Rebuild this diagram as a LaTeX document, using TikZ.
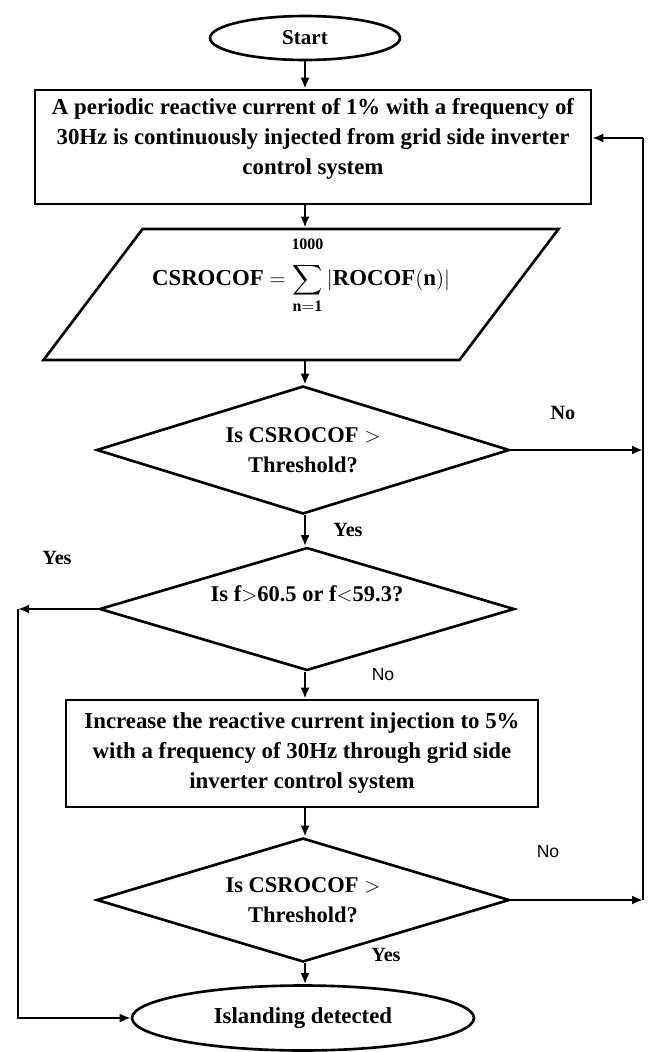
\documentclass[tikz,border=0pt]{standalone}
\usepackage{amsmath}
\usepackage{fontspec}
\setmainfont{Liberation Serif}
\newfontfamily\lblsans{Liberation Sans}
\usetikzlibrary{arrows.meta,positioning,shapes.geometric}

\begin{document}
\begin{tikzpicture}[x=0.02cm,y=-0.02cm,
	terminal/.style={draw,ellipse,line width=1.5pt,inner sep=0pt,font=\fontsize{12}{14}\selectfont\bfseries},
	box/.style={draw,rectangle,line width=1.5pt,align=center,inner sep=0pt,font=\fontsize{13}{17}\selectfont\bfseries},
	io/.style={draw,trapezium,trapezium left angle=51.3,trapezium right angle=128.7,trapezium stretches=true,
		line width=1.5pt,inner sep=0pt,minimum width=10.34cm,minimum height=2.62cm,font=\fontsize{13}{15}\selectfont},
	decision/.style={draw,diamond,aspect=3.2,line width=1.5pt,inner sep=0pt,align=center,font=\fontsize{12.8}{17}\selectfont\bfseries},
	flow/.style={-{Latex[length=2.2mm,width=1.8mm]},line width=1.3pt},
	lbl/.style={font=\fontsize{11.5}{13}\selectfont\bfseries},
	slbl/.style={font=\fontsize{10}{12}\selectfont\lblsans}]
\useasboundingbox (0,0) rectangle (651,1052);

\node[terminal,minimum width=3.8cm,minimum height=0.88cm] (start) at (305,38) {Start};
\node[box,minimum width=11.12cm,minimum height=2.28cm] (inject) at (313,147)
	{A periodic reactive current of 1\% with a frequency of\\30Hz is continuously injected from grid side inverter\\control system\rule[-0.42cm]{0pt}{0pt}};
\node[io] (csrocof) at (301,294.5)
	{$\displaystyle\mathbf{CSROCOF}=\sum_{\mathbf{n=1}}^{\mathbf{1000}\rule[-0.24cm]{0pt}{0pt}}\left|\mathbf{ROCOF(n)}\right|$\rule[-1.34cm]{0pt}{0pt}};
\node[decision,minimum width=8.26cm,minimum height=2.56cm] (check) at (303,450) {Is CSROCOF $>$\\Threshold?};
\node[decision,minimum width=8.3cm,minimum height=2.46cm] (freq) at (307,609)
	{Is f$>$60.5 or f$<$59.3?\rule[-0.6cm]{0pt}{0pt}};
\node[box,minimum width=9.44cm,minimum height=2.14cm] (increase) at (302,753.5)
	{Increase the reactive current injection to 5\%\\with a frequency of 30Hz through grid side\\inverter control system\rule[-0.12cm]{0pt}{0pt}};
\node[decision,minimum width=8.26cm,minimum height=2.48cm] (recheck) at (303,900) {Is CSROCOF $>$\\Threshold?};
\node[terminal,minimum width=6.84cm,minimum height=1.3cm,font=\fontsize{13}{15}\selectfont\bfseries] (island) at (303,1018) {Islanding detected};

% loop back and yes branch
\coordinate (loop) at (643,138);
\coordinate (back) at (18,609);

\draw[flow] (start) -- (start |- inject.north);
\draw[flow] (start |- inject.south) -- (start |- csrocof.north);
\draw[flow] (start |- csrocof.south) -- (start |- check.north);
\draw[flow] (start |- check.south) -- (start |- freq.north);
\draw[flow] (start |- freq.south) -- (start |- increase.north);
\draw[flow] (start |- increase.south) -- (start |- recheck.north);
\draw[flow] (start |- recheck.south) -- (start |- island.north);
\draw[flow] (check.east) -- (check.east -| loop);
\draw[flow] (recheck.east) -- (recheck.east -| loop);
\draw[line width=1.3pt] (loop) -- (loop |- recheck.east);
\draw[flow] (loop) -- (loop -| inject.east);
\draw[flow] (freq.west) -- (back);
\draw[flow] (back) |- (island.west);

\node[lbl] (no1) at (563,413) {No};
\node[lbl] (yes1) at (348,530) {Yes};
\node[lbl] (yes2) at (57,558) {Yes};
\node[slbl] (no2) at (383,675) {No};
\node[slbl] (no3) at (548,852) {No};
\node[lbl] (yes3) at (386,955) {Yes};
\end{tikzpicture}
\end{document}
